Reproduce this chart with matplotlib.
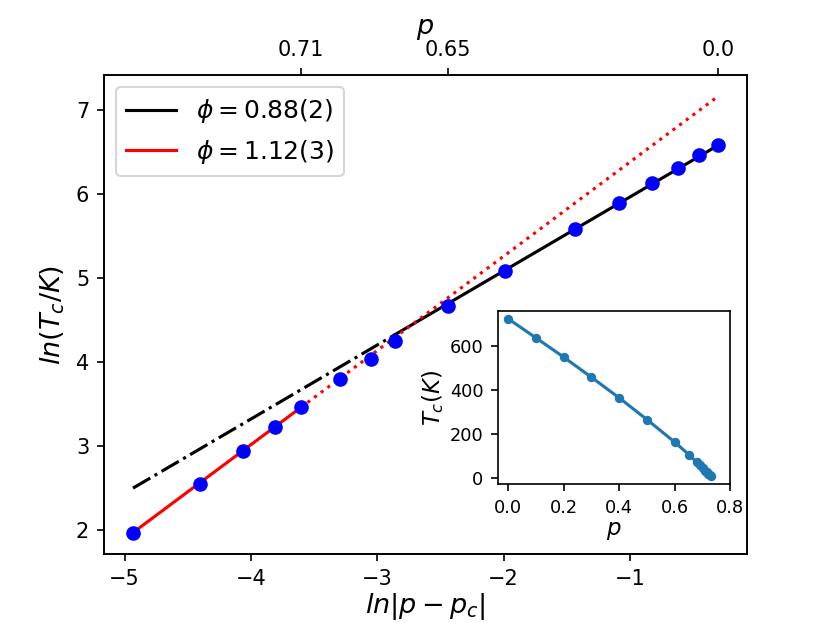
import numpy as np
import matplotlib
matplotlib.use("Agg")
import matplotlib.pyplot as plt

# Data
p = np.array([0.0, 0.1, 0.2, 0.3, 0.4, 0.5, 0.6, 0.65, 0.68, 0.69, 0.70,
              0.71, 0.715, 0.72, 0.725, 0.73])
Tc = np.array([725, 638, 550, 458, 364, 265, 162, 106, 70, 57, 45,
               32, 25.3, 19.1, 12.9, 7.2])
pc = 0.7372

fit_phi = [0.88, 1.12]
fit_intercept = [6.845, 7.50]
fit_labels = [r'$\phi=0.88(2)$', r'$\phi=1.12(3)$']
p_split = [0.68, 0.71]   # where solid/dashed switch

top_tick_p = [0.71, 0.65, 0.0]
top_tick_labels = ['0.71', '0.65', '0.0']

x = np.log(np.abs(p - pc))
y = np.log(Tc)

DPI = 150
fig = plt.figure(figsize=(830 / DPI, 623 / DPI), dpi=DPI)
ax = fig.add_subplot(111)

xmin, xmax = x.min(), x.max()

# black fit (phi=0.88): dash-dot at low x, solid near high x
xs = np.log(pc - p_split[0])
xx = np.array([xmin, xs])
ax.plot(xx, fit_intercept[0] + fit_phi[0] * xx, color='black', ls='-.')
xx = np.array([xs, xmax])
ax.plot(xx, fit_intercept[0] + fit_phi[0] * xx, color='black', ls='-',
        label=fit_labels[0])

# red fit (phi=1.12): solid at low x, dotted further
xs = np.log(pc - p_split[1])
xx = np.array([xmin, xs])
ax.plot(xx, fit_intercept[1] + fit_phi[1] * xx, color='red', ls='-',
        label=fit_labels[1])
xx = np.array([xs, xmax])
ax.plot(xx, fit_intercept[1] + fit_phi[1] * xx, color='red', ls=':')

ax.plot(x, y, 'o', color='blue', ms=6, zorder=5)

ax.set_xlabel(r'$ln|p-p_c|$', fontsize=13, labelpad=1)
ax.set_ylabel(r'$ln(T_c/K)$', fontsize=13)
ax.set_xticks([-5, -4, -3, -2, -1])
ax.legend(loc='upper left', fontsize=12)

ax2 = ax.twiny()
ax2.set_xlim(ax.get_xlim())
ax2.set_xticks(np.log(pc - np.array(top_tick_p)))
ax2.set_xticklabels(top_tick_labels)
ax2.set_xlabel(r'$p$', fontsize=13, labelpad=3)

# inset
axin = fig.add_axes([0.60, 0.223, 0.28, 0.278])
axin.plot(p, Tc, 'o-', color='#1f77b4', ms=3.5)
axin.set_xlim(right=0.8)
axin.set_xticks([0.0, 0.2, 0.4, 0.6, 0.8])
axin.set_yticks([0, 200, 400, 600])
axin.tick_params(labelsize=8.5)
axin.set_xlabel(r'$p$', fontsize=11, labelpad=1)
axin.set_ylabel(r'$T_c(K)$', fontsize=11, labelpad=2)

fig.savefig('out.png', dpi=DPI)
